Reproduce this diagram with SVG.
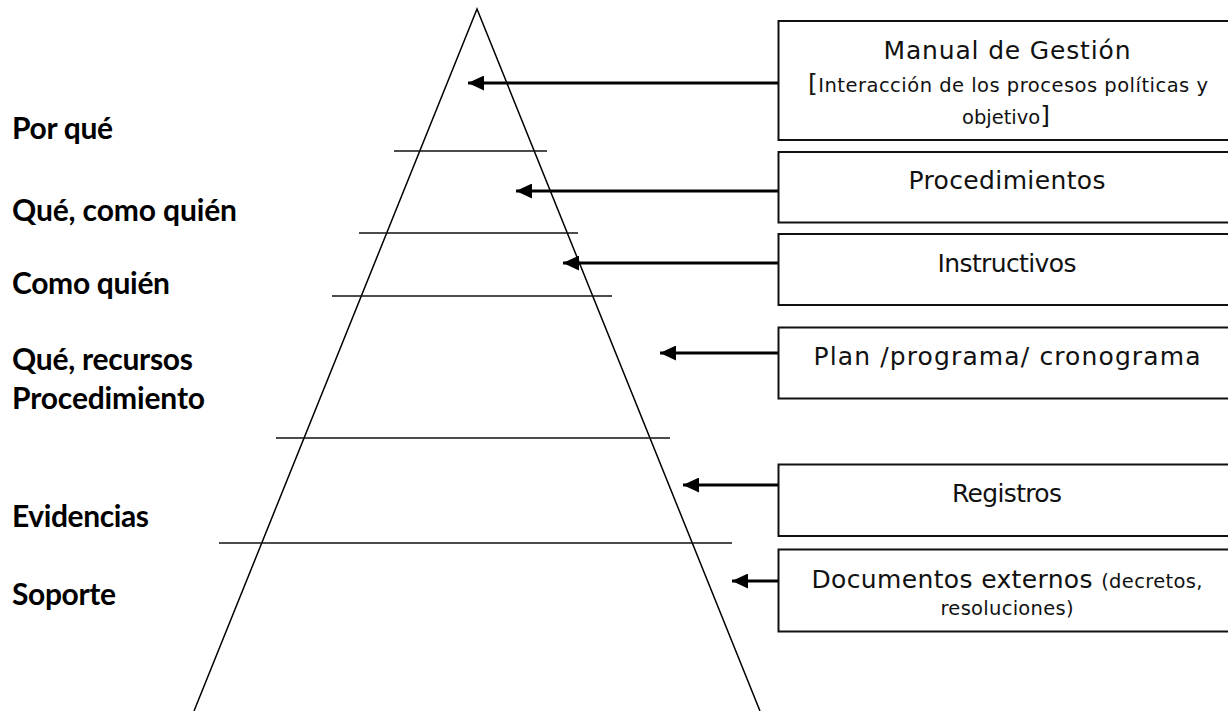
<svg xmlns="http://www.w3.org/2000/svg" width="1228" height="711" viewBox="0 0 1228 711">
  <style>
    .bg { fill: #ffffff; }
    .tri { fill: none; stroke: #000; stroke-width: 1.5; }
    .sep { stroke: #111; stroke-width: 1.5; }
    .box { fill: #fff; stroke: #111; stroke-width: 2; }
    .conn { stroke: #000; stroke-width: 3; fill: none; }
    .lbl { font-family: Lato, "Open Sans", "Liberation Sans", sans-serif; font-weight: 700; font-size: 30px; fill: #000; }
    .big { font-family: "DejaVu Sans", "Liberation Sans", sans-serif; font-size: 25px; fill: #111; text-anchor: middle; }
    .mid { font-family: "DejaVu Sans", "Liberation Sans", sans-serif; font-size: 19.5px; fill: #111; text-anchor: middle; }
  </style>
  <defs>
    <marker id="ah" markerUnits="userSpaceOnUse" markerWidth="16" markerHeight="15" refX="16" refY="7.5" orient="auto">
      <path d="M16,7.5 L0,0 L0,15 Z" fill="#000"/>
    </marker>
  </defs>
  <rect class="bg" x="0" y="0" width="1228" height="711"/>

  <g id="pyramid">
    <polyline class="tri" points="194,711 477,9 760,711"/>
    <line class="sep" x1="394" y1="151" x2="547" y2="151"/>
    <line class="sep" x1="359" y1="233" x2="578" y2="233"/>
    <line class="sep" x1="332" y1="296" x2="612" y2="296"/>
    <line class="sep" x1="276" y1="438" x2="670" y2="438"/>
    <line class="sep" x1="219" y1="543" x2="732" y2="543"/>
  </g>

  <g id="levels">
    <text class="lbl" x="12" y="139" textLength="101" lengthAdjust="spacing">Por qué</text>
    <text class="lbl" x="12" y="221" textLength="225" lengthAdjust="spacing">Qué, como quién</text>
    <text class="lbl" x="12" y="294" textLength="158" lengthAdjust="spacing">Como quién</text>
    <text class="lbl" x="12" y="370" textLength="181" lengthAdjust="spacing">Qué, recursos</text>
    <text class="lbl" x="12" y="409" textLength="193" lengthAdjust="spacing">Procedimiento</text>
    <text class="lbl" x="12" y="527" textLength="137" lengthAdjust="spacing">Evidencias</text>
    <text class="lbl" x="12" y="605" textLength="104" lengthAdjust="spacing">Soporte</text>
  </g>

  <g id="connectors">
    <line class="conn" x1="778" y1="83" x2="468" y2="83" marker-end="url(#ah)"/>
    <line class="conn" x1="778" y1="191" x2="516" y2="191" marker-end="url(#ah)"/>
    <line class="conn" x1="778" y1="263" x2="563" y2="263" marker-end="url(#ah)"/>
    <line class="conn" x1="778" y1="353" x2="660" y2="353" marker-end="url(#ah)"/>
    <line class="conn" x1="778" y1="485" x2="683" y2="485" marker-end="url(#ah)"/>
    <line class="conn" x1="778" y1="581" x2="732" y2="581" marker-end="url(#ah)"/>
  </g>

  <g id="node-manual">
    <rect class="box" x="778.5" y="21" width="470" height="119"/>
    <text class="big" x="1007" y="59" textLength="247" lengthAdjust="spacing">Manual de Gestión</text>
    <text class="mid" x="1008" y="92" textLength="400" lengthAdjust="spacing"><tspan font-size="25px">[</tspan>Interacción de los procesos políticas y</text>
    <text class="mid" x="1006" y="124"><tspan>objetivo</tspan><tspan font-size="25px">]</tspan></text>
  </g>

  <g id="node-procedimientos">
    <rect class="box" x="778.5" y="152" width="470" height="70.5"/>
    <text class="big" x="1007" y="189" textLength="197" lengthAdjust="spacing">Procedimientos</text>
  </g>

  <g id="node-instructivos">
    <rect class="box" x="778.5" y="234" width="470" height="71"/>
    <text class="big" x="1007" y="272" textLength="139" lengthAdjust="spacing">Instructivos</text>
  </g>

  <g id="node-plan">
    <rect class="box" x="778.5" y="327.5" width="470" height="71"/>
    <text class="big" x="1007" y="365" textLength="387" lengthAdjust="spacing">Plan /programa/ cronograma</text>
  </g>

  <g id="node-registros">
    <rect class="box" x="778.5" y="464.5" width="470" height="71.5"/>
    <text class="big" x="1007" y="502" textLength="110" lengthAdjust="spacing">Registros</text>
  </g>

  <g id="node-documentos">
    <rect class="box" x="778.5" y="549.5" width="470" height="82"/>
    <text class="big" x="1007" y="588" textLength="391" lengthAdjust="spacing">Documentos externos <tspan font-size="19.5px">(decretos,</tspan></text>
    <text class="mid" x="1007" y="615" textLength="133" lengthAdjust="spacing">resoluciones)</text>
  </g>
</svg>
